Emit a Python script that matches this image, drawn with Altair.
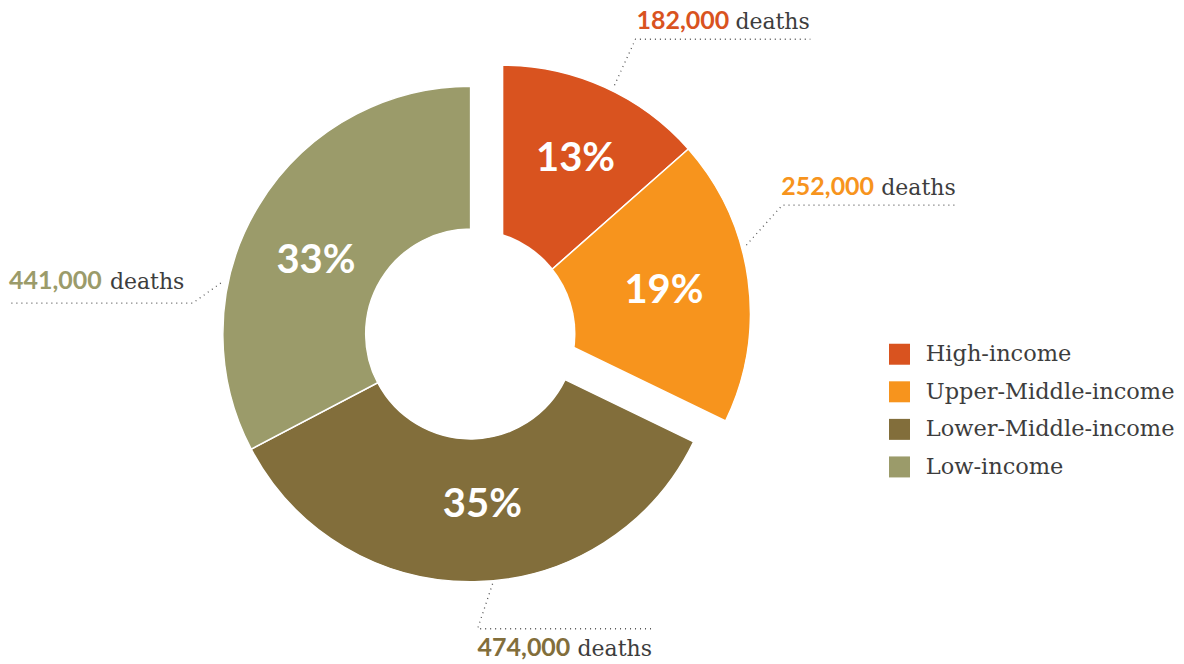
import math
import altair as alt
import pandas as pd

# ---- data ----
categories = ["High-income", "Upper-Middle-income", "Lower-Middle-income", "Low-income"]
deaths = [182000, 252000, 474000, 441000]
exploded = [True, True, False, False]
colors = ["#D9531F", "#F7941D", "#826E3B", "#9B9B6A"]

# ---- annotation layout (pixels inside the plot area), same order as categories ----
label_num_x = [628, 773, 469, 0]
label_word_x = [727, 873, 569, 101]
label_y = [21, 187, 648, 281]
leader_paths = [
    [(606, 77), (627, 31), (802, 31)],
    [(738, 237), (774, 197), (948, 197)],
    [(484, 576), (469, 621), (645, 621)],
    [(212, 275), (184, 295), (2, 295)],
]
pct_angle_nudge_deg = [1, 0, -3, -6]
pct_radius = [171, 163, 172, 171]
MAIN_CENTER = (462, 326)
EXPLODE_CENTER = (494, 305)
INNER_R, OUTER_R = 105, 248

total = sum(deaths)
df = pd.DataFrame({
    "category": categories,
    "deaths": deaths,
    "order": list(range(len(categories))),
    "exploded": exploded,
    "nudge": [d / 360 * total for d in pct_angle_nudge_deg],
    "lr": pct_radius,
})
labels_df = pd.DataFrame({
    "category": categories,
    "deaths": deaths,
    "nx": label_num_x,
    "wx": label_word_x,
    "ny": label_y,
})
leader_rows = []
for cat, path in zip(categories, leader_paths):
    for i, (px, py) in enumerate(path):
        leader_rows.append({"category": cat, "step": i, "px": px, "py": py})
leaders_df = pd.DataFrame(leader_rows)

theta_scale = alt.Scale(domain=[0, total], range=[0, 2 * math.pi], nice=False)
color_scale = alt.Scale(domain=categories, range=colors)
legend = alt.Legend(
    title=None, orient="none", legendX=880, legendY=335,
    symbolType="square", symbolSize=441, symbolStrokeWidth=0, symbolOpacity=1,
    labelFont="DejaVu Serif", labelFontSize=22.5, labelColor="#3d3d3d",
    labelOffset=15, rowPadding=14.6, padding=0, labelLimit=400,
)
color_enc = alt.Color("category:N", scale=color_scale, legend=legend,
                      sort=categories)

base = (
    alt.Chart(df)
    .transform_joinaggregate(total="sum(deaths)")
    .transform_stack(stack="deaths", groupby=[], as_=["t0", "t1"],
                     sort=[alt.SortField("order", order="ascending")])
    .transform_calculate(mid="(datum.t0 + datum.t1) / 2 + datum.nudge",
                         pct="format(datum.deaths / datum.total, '.0%')")
)


def arc_layer(flag, center, inner):
    return (
        base.transform_filter(f"datum.exploded == {str(flag).lower()}")
        .mark_arc(innerRadius=inner, outerRadius=OUTER_R, x=center[0], y=center[1],
                  stroke="white", strokeWidth=1.5)
        .encode(theta=alt.Theta("t0:Q", scale=theta_scale),
                theta2="t1:Q", color=color_enc)
    )


def pct_layer(flag, center):
    return (
        base.transform_filter(f"datum.exploded == {str(flag).lower()}")
        .mark_text(x=center[0], y=center[1], font="Lato",
                   fontWeight="bold", fontSize=40, color="white",
                   align="center", baseline="middle")
        .encode(theta=alt.Theta("mid:Q", scale=theta_scale),
                radius=alt.Radius("lr:Q", scale=None),
                text="pct:N")
    )


# the shared hole: exploded wedges are cut by the same inner circle as the rest
hole = (
    alt.Chart(pd.DataFrame({"hole": [1]}))
    .mark_arc(theta=0, theta2=2 * math.pi, innerRadius=0, outerRadius=INNER_R,
              x=MAIN_CENTER[0], y=MAIN_CENTER[1], strokeWidth=0)
    .encode(fill=alt.value("white"))
)

numbers = (
    alt.Chart(labels_df)
    .transform_calculate(num="format(datum.deaths, ',')")
    .mark_text(align="left", baseline="alphabetic", font="Lato",
               fontWeight="bold", fontSize=25)
    .encode(x=alt.X("nx:Q", scale=None, axis=None),
            y=alt.Y("ny:Q", scale=None, axis=None),
            text="num:N", color=color_enc)
)
words = (
    alt.Chart(labels_df)
    .mark_text(align="left", baseline="alphabetic", font="DejaVu Serif",
               fontSize=22, color="#3d3d3d")
    .encode(x=alt.X("wx:Q", scale=None, axis=None),
            y=alt.Y("ny:Q", scale=None, axis=None),
            text=alt.value("deaths"))
)
leaders = (
    alt.Chart(leaders_df)
    .mark_line(stroke="#555555", strokeWidth=1.3, strokeDash=[1, 4])
    .encode(x=alt.X("px:Q", scale=None, axis=None),
            y=alt.Y("py:Q", scale=None, axis=None),
            detail="category:N", order="step:Q")
)

chart = (
    alt.layer(
        arc_layer(False, MAIN_CENTER, INNER_R),
        arc_layer(True, EXPLODE_CENTER, 0),
        hole,
        pct_layer(False, MAIN_CENTER),
        pct_layer(True, EXPLODE_CENTER),
        leaders, numbers, words,
    )
    .properties(width=1168, height=648, padding=0, background="white")
    .configure_view(stroke=None)
)

chart.save("out.html", embed_options={"renderer": "svg", "actions": False})
